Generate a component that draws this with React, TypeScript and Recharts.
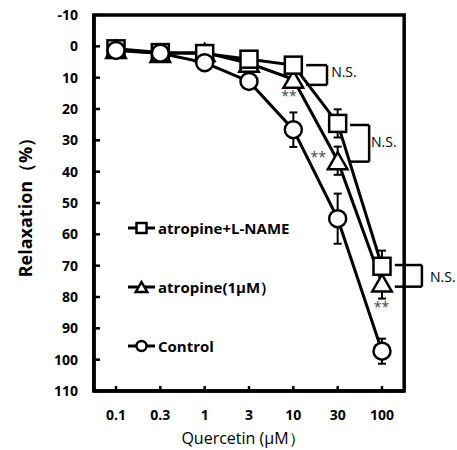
import React from "react";
import { LineChart, Line, XAxis, YAxis, ErrorBar, ReferenceLine, ReferenceDot, ReferenceArea, Legend } from "recharts";

const categories = ["0.1", "0.3", "1", "3", "10", "30", "100"];
const control = [1.3, 2.2, 5.2, 11.2, 26.6, 55.0, 97.3];
const controlErr = [1.5, 1.5, 1.5, 2, 5.5, 8, 4];
const atropine = [1.0, 2.3, 2.0, 5.4, 10.5, 36.5, 75.5];
const atropineErr = [2, 2, 1.5, 2, 2, 4.5, 5];
const lname = [0.8, 2.0, 2.3, 4.1, 6.0, 24.6, 70.2];
const lnameErr = [1.5, 1.5, 1.5, 1.5, 1.5, 4.5, 5];
const yTicks = [-10, 0, 10, 20, 30, 40, 50, 60, 70, 80, 90, 100, 110];

// annotations use the hidden index axis: category i sits at x = i
const bracketX1 = [4.29, 5.28, 6.29];
const bracketX2 = [4.76, 5.71, 6.9];
const bracketTop = [6.0, 25.1, 69.8];
const bracketBottom = [12.3, 36.8, 76.7];
const nsX = [4.83, 5.73, 7.06];
const nsY = [8.2, 30.4, 73.5];
const starX = [3.9, 4.56, 5.99];
const starY = [15.9, 35.3, 83.1];

const legendNames = ["atropine+L-NAME", "atropine(1μM）", "Control"];
const legendShapes = ["square", "triangle", "circle"];

const FONT = "'Open Sans', sans-serif";

const data = categories.map((cat, i) => ({
  cat,
  control: control[i],
  controlErr: controlErr[i],
  atropine: atropine[i],
  atropineErr: atropineErr[i],
  lname: lname[i],
  lnameErr: lnameErr[i],
}));

function Marker({ shape, cx, cy, s }: { shape: string; cx: number; cy: number; s: number }) {
  if (shape === "square")
    return <rect x={cx - s / 2} y={cy - s / 2} width={s} height={s} fill="#fff" stroke="#000" strokeWidth={2.5} />;
  if (shape === "triangle") {
    const w = s * 1.15;
    const h = s;
    return (
      <polygon
        points={`${cx},${cy - h / 2} ${cx + w / 2},${cy + h / 2} ${cx - w / 2},${cy + h / 2}`}
        fill="#fff"
        stroke="#000"
        strokeWidth={2.5}
      />
    );
  }
  return <circle cx={cx} cy={cy} r={s / 2} fill="#fff" stroke="#000" strokeWidth={2.5} />;
}

const dotFor = (shape: string) => (p: any) =>
  <Marker key={`${shape}-${p.index}`} shape={shape} cx={p.cx} cy={p.cy} s={17} />;

function LegendBox() {
  return (
    <svg width={200} height={180}>
      {legendNames.map((name, i) => {
        const y = 30 + i * 59;
        return (
          <g key={name}>
            <line x1={8} x2={35} y1={y} y2={y} stroke="#000" strokeWidth={3} />
            <Marker shape={legendShapes[i]} cx={21.5} cy={y} s={10} />
            <text x={38} y={y} dominantBaseline="central" fontFamily={FONT} fontWeight="bold" fontSize={15} fill="#000">
              {name}
            </text>
          </g>
        );
      })}
    </svg>
  );
}

const YLabel = (props: any) => {
  const vb = props.viewBox;
  const x = vb.x + 25;
  const y = vb.y + vb.height / 2;
  return (
    <text x={x} y={y} transform={`rotate(-90, ${x}, ${y})`} textAnchor="middle" dominantBaseline="central"
      fontFamily={FONT} fontWeight="bold" fontSize={18} fill="#000">
      Relaxation（%）
    </text>
  );
};

const seg = (x1: number, y1: number, x2: number, y2: number, key: string) => (
  <ReferenceLine key={key} xAxisId="idx" ifOverflow="visible" stroke="#000" strokeWidth={2.5}
    segment={[{ x: x1, y: y1 }, { x: x2, y: y2 }]} />
);

export default function App() {
  return (
    <div style={{ position: "absolute", left: 0, top: 0 }}>
      <LineChart width={457} height={450} data={data} margin={{ top: 15, right: 53, left: 0, bottom: 0 }}>
        <XAxis
          dataKey="cat"
          height={59}
          padding={{ left: 22, right: 22 }}
          axisLine={{ stroke: "#000", strokeWidth: 3.5 }}
          tickLine={false}
          tickSize={-5}
          tickMargin={24}
          interval={0}
          tick={{ fill: "#000", fontSize: 14, fontWeight: "bold", fontFamily: FONT }}
          label={{ value: "Quercetin (μM）", position: "insideBottom", offset: 6, dx: -6, fill: "#000", fontSize: 16, fontFamily: FONT }}
        />
        <XAxis xAxisId="idx" type="number" domain={[0, 6]} allowDataOverflow padding={{ left: 22, right: 22 }} hide />
        <YAxis
          type="number"
          width={94}
          domain={[-10, 110]}
          reversed
          ticks={yTicks}
          interval={0}
          axisLine={{ stroke: "#000", strokeWidth: 3.5 }}
          tickLine={false}
          tickSize={-6}
          tickMargin={22}
          tick={{ fill: "#000", fontSize: 14, fontWeight: "bold", fontFamily: FONT }}
          label={<YLabel />}
        />
        <ReferenceArea xAxisId="idx" x1={-0.5} x2={6.5} y1={-10} y2={110} fill="none" stroke="#000" strokeWidth={3.5} ifOverflow="visible" />
        {yTicks.map((t, i) => seg(-0.5, t, -0.36, t, `yt${i}`))}
        {categories.map((c, i) => seg(i, 110, i, 108.4, `xt${i}`))}
        <Line dataKey="atropine" stroke="#000" strokeWidth={3} dot={dotFor("triangle")} isAnimationActive={false}>
          <ErrorBar dataKey="atropineErr" width={4} stroke="#000" strokeWidth={2} direction="y" />
        </Line>
        <Line dataKey="lname" stroke="#000" strokeWidth={3} dot={dotFor("square")} isAnimationActive={false}>
          <ErrorBar dataKey="lnameErr" width={4} stroke="#000" strokeWidth={2} direction="y" />
        </Line>
        <Line dataKey="control" stroke="#000" strokeWidth={3} dot={dotFor("circle")} isAnimationActive={false}>
          <ErrorBar dataKey="controlErr" width={4} stroke="#000" strokeWidth={2} direction="y" />
        </Line>
        {bracketX1.map((x1, i) => [
          seg(x1, bracketTop[i], bracketX2[i], bracketTop[i], `bt${i}`),
          seg(bracketX2[i], bracketTop[i], bracketX2[i], bracketBottom[i], `bv${i}`),
          seg(x1, bracketBottom[i], bracketX2[i], bracketBottom[i], `bb${i}`),
        ])}
        {nsX.map((x, i) => (
          <ReferenceDot key={`ns${i}`} xAxisId="idx" x={x} y={nsY[i]} r={1} fill="none" stroke="none" ifOverflow="visible"
            label={{ value: "N.S.", position: "right", offset: 0, fill: "#000", fontSize: 14, fontFamily: FONT }} />
        ))}
        {starX.map((x, i) => (
          <ReferenceDot key={`st${i}`} xAxisId="idx" x={x} y={starY[i]} r={1} fill="none" stroke="none" ifOverflow="visible"
            label={{ value: "**", position: "center", fill: "#444", fontSize: 14, fontFamily: FONT }} />
        ))}
        <Legend layout="vertical" align="center" verticalAlign="middle"
          wrapperStyle={{ left: 120, top: 198, width: 200, height: 180 }} content={() => <LegendBox />} />
      </LineChart>
    </div>
  );
}
